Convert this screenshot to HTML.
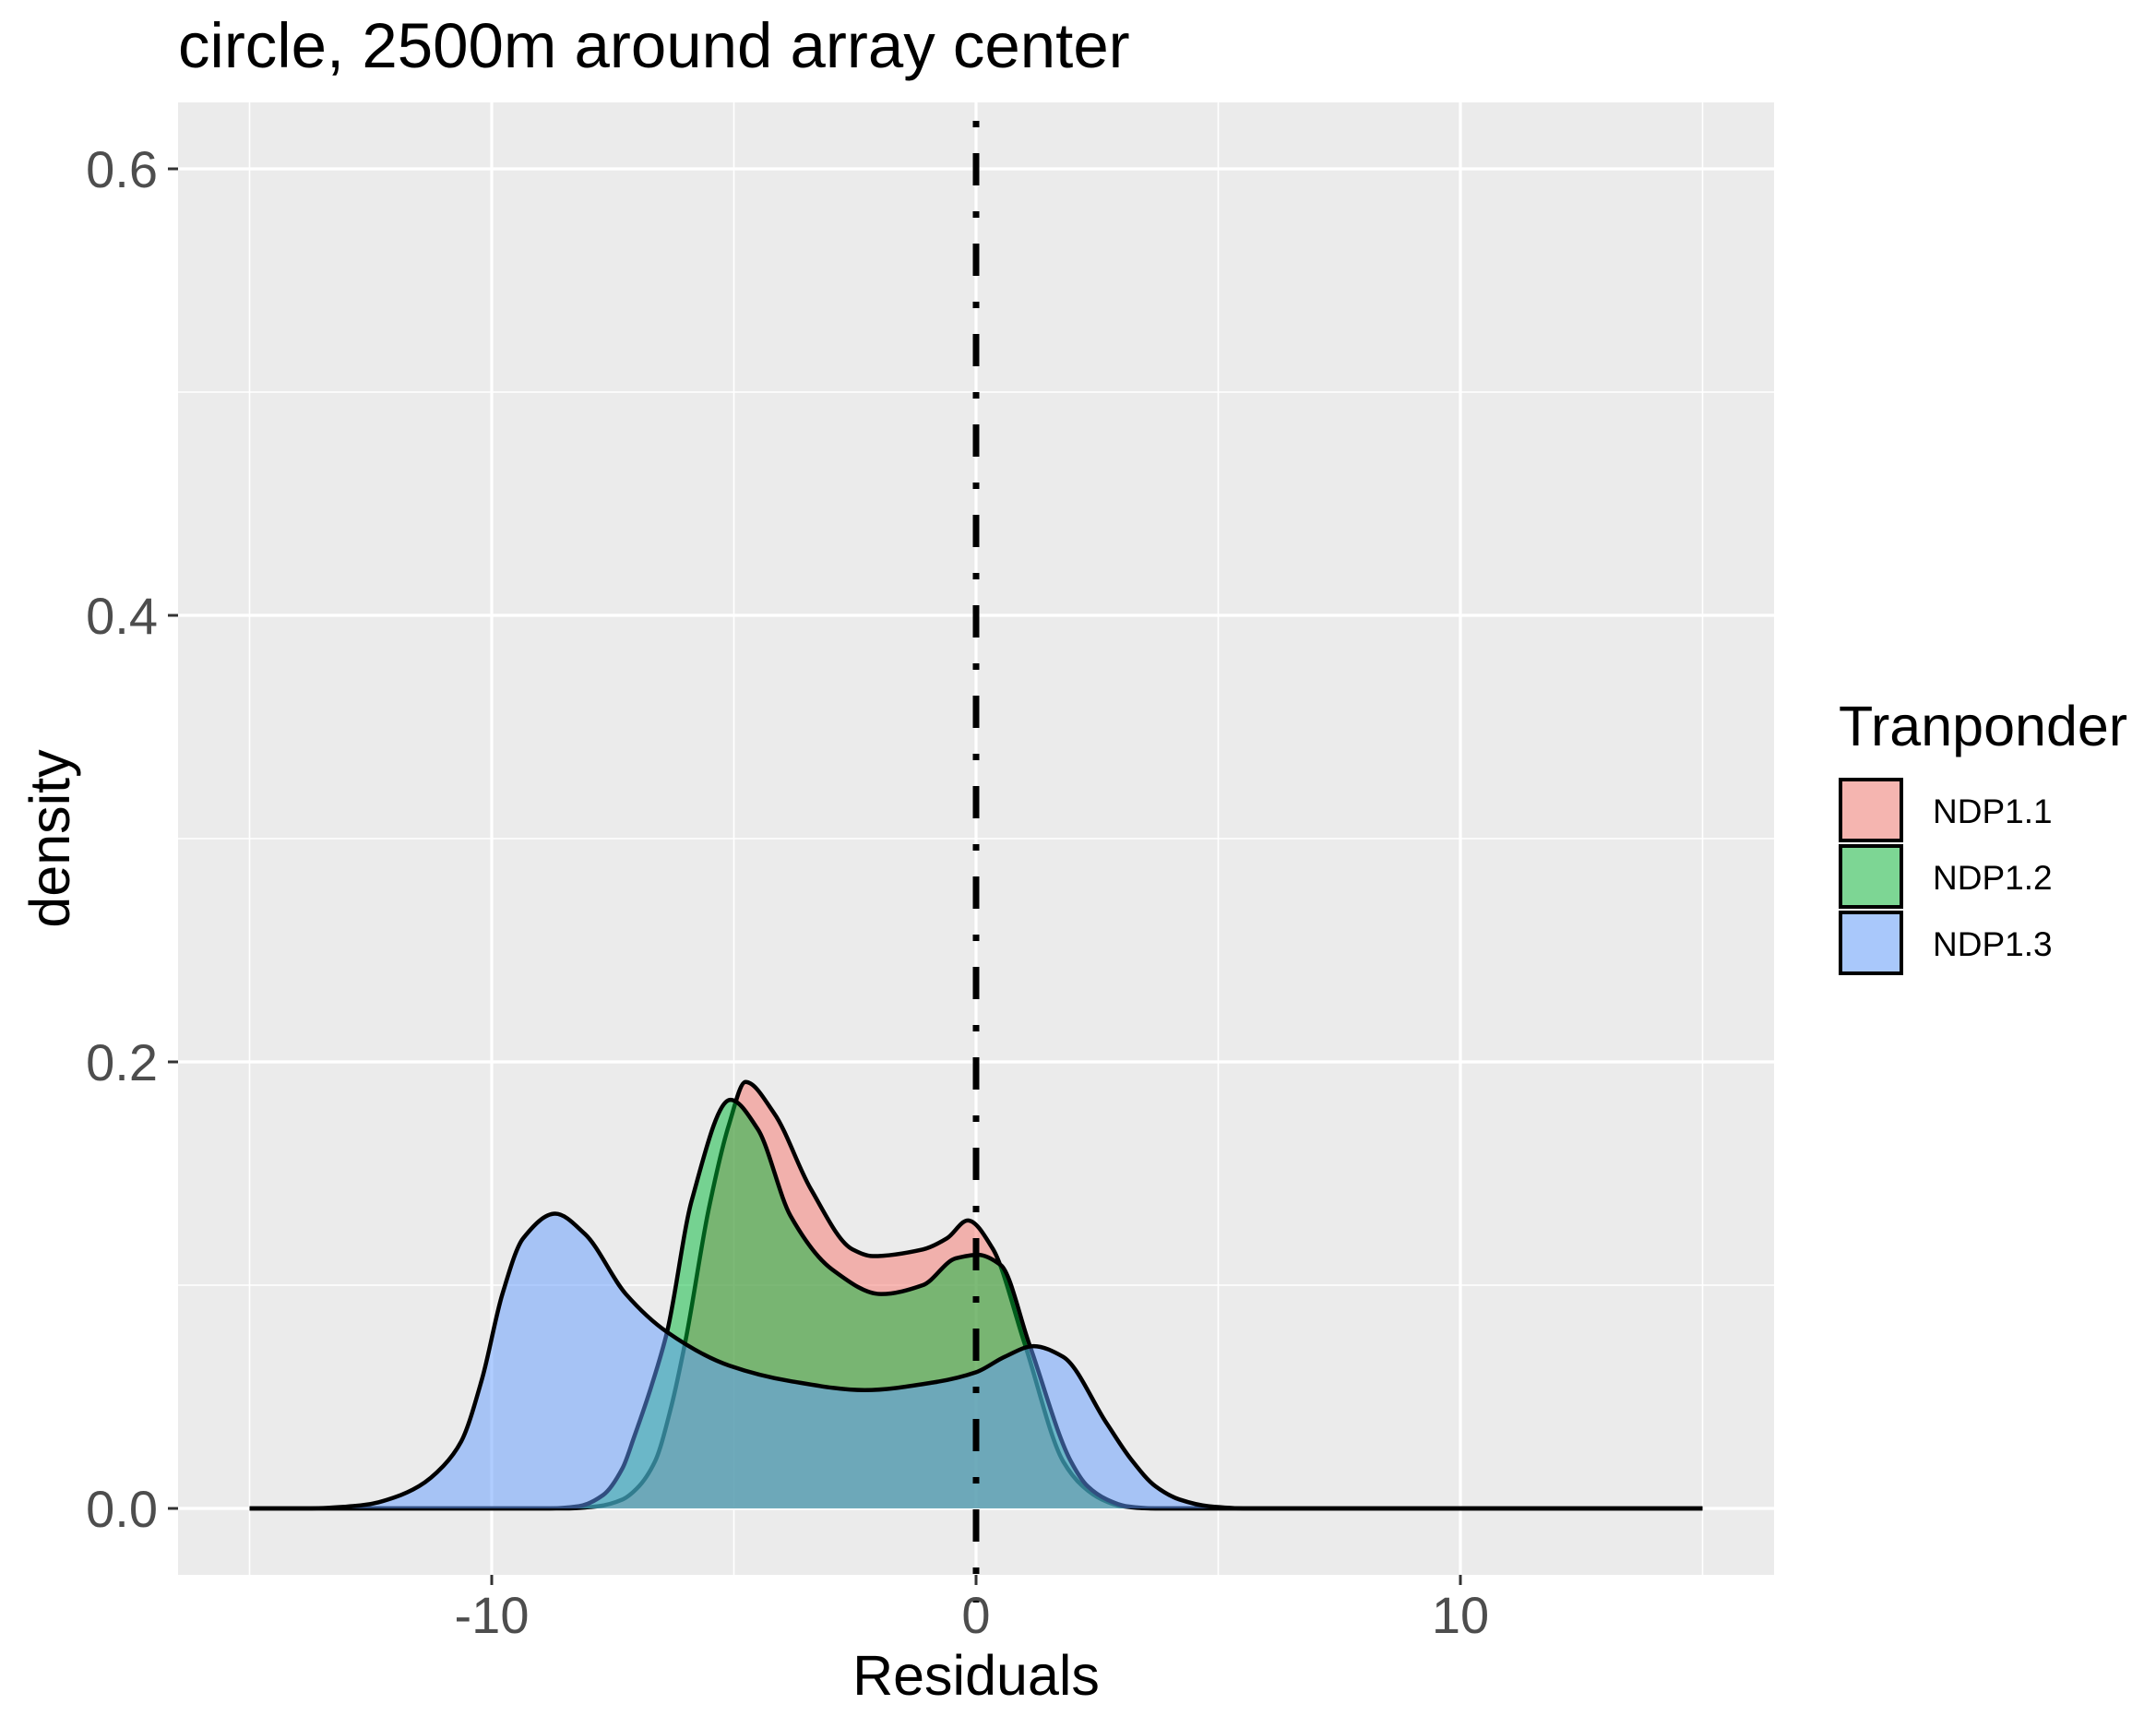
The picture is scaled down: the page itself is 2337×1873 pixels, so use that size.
<!DOCTYPE html>
<html><head><meta charset="utf-8"><style>
html,body{margin:0;padding:0;background:#fff}
svg{display:block}
text{font-family:"Liberation Sans",Arial,sans-serif}
</style></head><body>
<svg id="chart" width="2337" height="1873" viewBox="0 0 2337 1873" xmlns="http://www.w3.org/2000/svg">
<text x="193" y="73" font-size="69" fill="#000">circle, 2500m around array center</text>
<rect x="193" y="111" width="1730" height="1596" fill="#EBEBEB"/>
<g id="grid"></g>
<g id="series"></g>
<g id="vline"></g>
<g id="axes"></g>
<text x="1058" y="1837" font-size="61" text-anchor="middle" fill="#000">Residuals</text>
<text transform="translate(75,909) rotate(-90)" font-size="61" text-anchor="middle" fill="#000">density</text>
<g id="legend">
<text x="1993" y="808" font-size="61" fill="#000">Tranponder</text>
</g>
</svg>
<script>
const xTicks = [-10, 0, 10];
const xTickLabels = ["-10", "0", "10"];
const xMinor = [-15, -5, 5, 15];
const yTicks = [0, 0.2, 0.4, 0.6];
const yTickLabels = ["0.0", "0.2", "0.4", "0.6"];
const yMinor = [0.1, 0.3, 0.5];
const seriesNames = ["NDP1.1", "NDP1.2", "NDP1.3"];
const seriesFills = ["rgba(248,118,109,0.5)", "rgba(0,186,56,0.5)", "rgba(97,156,255,0.5)"];
const legendFills = ["#F5B5B0", "#7DD694", "#A9C8FB"];
const redX = [-15, -8.5, -7.8, -7.3, -7.0, -6.63, -6.3, -6.0, -5.52, -5.1, -4.76, -4.17, -3.41, -2.55, -2.13, -1.1, -0.6, -0.17, 0.34, 1.0, 1.8, 2.2, 2.6, 3.0, 3.6, 15];
const redY = [0, 0, 0.001, 0.004, 0.009, 0.021, 0.045, 0.075, 0.134, 0.172, 0.191, 0.177, 0.143, 0.116, 0.113, 0.116, 0.121, 0.129, 0.1165, 0.074, 0.021, 0.010, 0.004, 0.001, 0, 0];
const greenX = [-15, -8.8, -8.2, -7.7, -7.3, -7.06, -6.7, -6.38, -5.87, -5.07, -4.51, -3.83, -2.97, -1.96, -1.1, -0.42, 0.04, 0.51, 1.1, 1.96, 2.3, 2.7, 3.1, 3.7, 15];
const greenY = [0, 0, 0.001, 0.006, 0.018, 0.032, 0.055, 0.079, 0.138, 0.183, 0.170, 0.131, 0.107, 0.096, 0.100, 0.112, 0.1136, 0.109, 0.0735, 0.021, 0.010, 0.004, 0.001, 0, 0];
const blueX = [-15, -13.8, -13, -12.5, -12, -11.5, -11, -10.63, -10.2, -9.78, -9.35, -8.69, -8.08, -7.23, -6.38, -5.1, -3.83, -2.3, -0.86, 0, 0.6, 1.19, 1.79, 2.7, 3.2, 3.7, 4.2, 4.8, 5.6, 15];
const blueY = [0, 0, 0.0008, 0.002, 0.005, 0.010, 0.019, 0.030, 0.058, 0.096, 0.121, 0.132, 0.123, 0.096, 0.079, 0.064, 0.057, 0.053, 0.0565, 0.061, 0.068, 0.0727, 0.068, 0.038, 0.022, 0.010, 0.004, 0.001, 0, 0];

const NS = "http://www.w3.org/2000/svg";
const xScale = v => 1058 + v * 52.5;
const yScale = v => 1635 - v * 2420;
const PL = 193, PR = 1923, PT = 111, PB = 1707;
function mk(tag, attrs, parent) {
  const e = document.createElementNS(NS, tag);
  for (const k in attrs) e.setAttribute(k, attrs[k]);
  parent.appendChild(e);
  return e;
}
const grid = document.getElementById('grid');
xMinor.forEach(v => {
  const l = mk('line', {x1: xScale(v), x2: xScale(v), y1: PT, y2: PB, stroke: '#fff', 'stroke-width': 1.6}, grid);
  
  
});
yMinor.forEach(v => {
  const l = mk('line', {x1: PL, x2: PR, y1: yScale(v), y2: yScale(v), stroke: '#fff', 'stroke-width': 1.6}, grid);
  
  
});
xTicks.forEach(v => {
  const l = mk('line', {x1: xScale(v), x2: xScale(v), y1: PT, y2: PB, stroke: '#fff', 'stroke-width': 3.2}, grid);
  
  
});
yTicks.forEach(v => {
  const l = mk('line', {x1: PL, x2: PR, y1: yScale(v), y2: yScale(v), stroke: '#fff', 'stroke-width': 3.2}, grid);
  
  
});

// monotone cubic (Fritsch-Carlson) in data space, converted to bezier
function smoothPath(xs, ys) {
  const n = xs.length, d = [], m = [];
  for (let i = 0; i < n - 1; i++) d.push((ys[i + 1] - ys[i]) / (xs[i + 1] - xs[i]));
  m[0] = d[0]; m[n - 1] = d[n - 2];
  for (let i = 1; i < n - 1; i++) {
    if (d[i - 1] * d[i] <= 0) m[i] = 0;
    else {
      const h0 = xs[i] - xs[i - 1], h1 = xs[i + 1] - xs[i];
      const w1 = 2 * h1 + h0, w2 = h1 + 2 * h0;
      m[i] = (w1 + w2) / (w1 / d[i - 1] + w2 / d[i]);
    }
  }
  let p = `M${xScale(xs[0])},${yScale(ys[0])}`;
  for (let i = 0; i < n - 1; i++) {
    const h = xs[i + 1] - xs[i];
    const c1x = xs[i] + h / 3, c1y = ys[i] + m[i] * h / 3;
    const c2x = xs[i + 1] - h / 3, c2y = ys[i + 1] - m[i + 1] * h / 3;
    p += ` C${xScale(c1x)},${yScale(c1y)} ${xScale(c2x)},${yScale(c2y)} ${xScale(xs[i + 1])},${yScale(ys[i + 1])}`;
  }
  return p;
}
const seriesG = document.getElementById('series');
const allX = [redX, greenX, blueX], allY = [redY, greenY, blueY];
const slugs = ['ndp1-1', 'ndp1-2', 'ndp1-3'];
allX.forEach((xs, i) => {
  const d = smoothPath(xs, allY[i]);
  const area = mk('path', {d: d + ` L${xScale(xs[xs.length - 1])},${yScale(0)} L${xScale(xs[0])},${yScale(0)} Z`, fill: seriesFills[i], stroke: 'none'}, seriesG);
  
  
  const line = mk('path', {d: d, fill: 'none', stroke: '#000', 'stroke-width': 4.5, 'stroke-linejoin': 'round'}, seriesG);
  
  
});

const vl = mk('line', {x1: xScale(0), x2: xScale(0), y1: PT + 20, y2: PB + 30, stroke: '#000', 'stroke-width': 7, 'stroke-dasharray': '7 28 35 28'}, document.getElementById('vline'));



const axes = document.getElementById('axes');
xTicks.forEach((v, i) => {
  const t = mk('line', {x1: xScale(v), x2: xScale(v), y1: PB, y2: PB + 11, stroke: '#333', 'stroke-width': 3}, axes);
  
  
  const tx = mk('text', {x: xScale(v), y: 1770, 'font-size': 56, 'text-anchor': 'middle', fill: '#4D4D4D'}, axes);
  tx.textContent = xTickLabels[i];
  
  
});
yTicks.forEach((v, i) => {
  const t = mk('line', {x1: PL - 11, x2: PL, y1: yScale(v), y2: yScale(v), stroke: '#333', 'stroke-width': 3}, axes);
  
  
  const tx = mk('text', {x: 171, y: yScale(v) + 20, 'font-size': 56, 'text-anchor': 'end', fill: '#4D4D4D'}, axes);
  tx.textContent = yTickLabels[i];
  
  
});

const legend = document.getElementById('legend');
seriesNames.forEach((n, i) => {
  const y = 845 + i * 72;
  const r = mk('rect', {x: 1995, y: y, width: 66, height: 66, fill: legendFills[i], stroke: '#000', 'stroke-width': 4}, legend);
  
  
  const t = mk('text', {x: 2095, y: 892 + i * 72, 'font-size': 37, fill: '#000'}, legend);
  t.textContent = n;
  
  
});
</script>
</body></html>
